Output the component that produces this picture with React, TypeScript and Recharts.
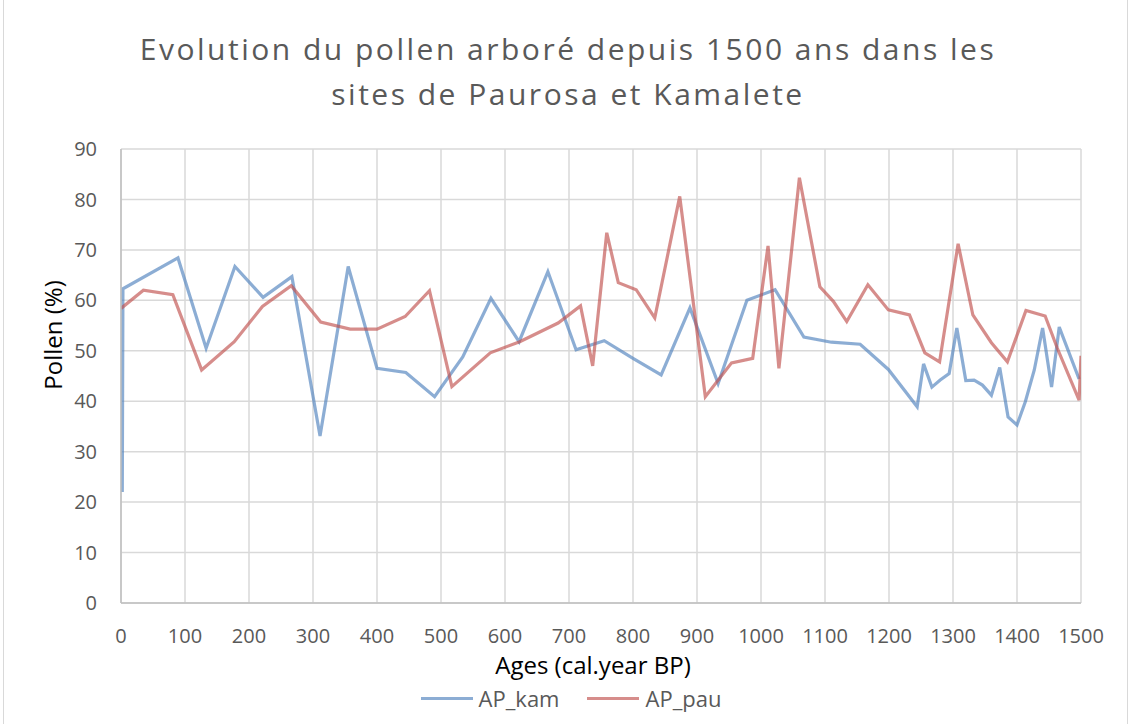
import { LineChart, Line, XAxis, YAxis, CartesianGrid } from 'recharts';

const FONT = '"Open Sans", sans-serif';

const xTicks = [0, 100, 200, 300, 400, 500, 600, 700, 800, 900, 1000, 1100, 1200, 1300, 1400, 1500];
const yTicks = [0, 10, 20, 30, 40, 50, 60, 70, 80, 90];

// AP_kam (Kamalete)
const kamAges = [
  2, 3, 89, 133, 178, 222, 267, 311, 355, 400, 445, 490, 534, 578, 622, 667, 711, 755, 800, 844,
  889, 933, 978, 1022, 1067, 1110, 1155, 1199, 1244, 1254, 1267, 1280, 1294, 1306, 1320, 1333,
  1346, 1360, 1373, 1386, 1400, 1413, 1427, 1440, 1454, 1466, 1497,
];
const kamValues = [
  22.0, 62.3, 68.4, 50.5, 66.7, 60.6, 64.7, 33.1, 66.7, 46.5, 45.7, 40.9, 48.8, 60.4, 51.8, 65.7,
  50.2, 52.0, 48.5, 45.2, 58.5, 43.5, 60.0, 62.1, 52.7, 51.7, 51.3, 46.3, 38.9, 47.4, 42.8, 44.2,
  45.5, 54.5, 44.1, 44.2, 43.2, 41.2, 46.7, 36.9, 35.3, 39.9, 46.2, 54.5, 42.8, 54.7, 44.4,
];

// AP_pau (Paurosa)
const pauAges = [
  0, 35, 81, 126, 177, 221, 266, 312, 358, 400, 444, 482, 517, 577, 623, 683, 718, 737, 759, 777,
  805, 834, 873, 913, 954, 987, 1011, 1028, 1060, 1092, 1113, 1134, 1167, 1199, 1232, 1256, 1279,
  1308, 1331, 1360, 1385, 1414, 1444, 1463, 1497, 1500,
];
const pauValues = [
  58.4, 62.0, 61.1, 46.2, 51.8, 58.8, 62.9, 55.7, 54.3, 54.3, 56.8, 61.9, 42.9, 49.6, 51.8, 55.5,
  58.9, 47.0, 73.4, 63.5, 62.1, 56.5, 80.6, 40.9, 47.6, 48.5, 70.8, 46.5, 84.3, 62.7, 59.8, 55.8,
  63.1, 58.1, 57.1, 49.6, 47.8, 71.2, 57.1, 51.6, 47.8, 58.0, 56.9, 50.5, 40.2, 49.0,
];

const seriesNames = ['AP_kam', 'AP_pau'];
const seriesColors = ['#4f81bd', '#c0504d'];

const kamData = kamAges.map((age, i) => ({ age, value: kamValues[i] }));
const pauData = pauAges.map((age, i) => ({ age, value: pauValues[i] }));

const abs = (style: any) => ({ position: 'absolute' as const, fontFamily: FONT, ...style });

export default function App() {
  return (
    <div style={{ position: 'absolute', left: 0, top: 0, width: 1130, height: 724, background: '#fff', overflow: 'hidden' }}>
      <div style={abs({ left: 3, top: 0, width: 1123, height: 724, borderLeft: '1px solid #d9d9d9', borderRight: '1px solid #d9d9d9' })} />
      <div
        style={abs({
          left: 0,
          top: 26,
          width: 1136,
          textAlign: 'center',
          fontSize: 30,
          lineHeight: '45px',
          color: '#595959',
          letterSpacing: 2.5,
        })}
      >
        Evolution du pollen arboré depuis 1500 ans dans les
        <br />
        sites de Paurosa et Kamalete
      </div>
      <div
        style={abs({
          left: 52,
          top: 335,
          transform: 'translate(-50%, -50%) rotate(-90deg)',
          fontSize: 24,
          color: '#000',
          whiteSpace: 'nowrap',
        })}
      >
        Pollen (%)
      </div>
      <div style={abs({ left: 0, width: 1186, top: 648, textAlign: 'center', fontSize: 24, color: '#000' })}>
        Ages (cal.year BP)
      </div>
      <div
        style={abs({
          left: 0,
          width: 1130,
          top: 683,
          display: 'flex',
          justifyContent: 'center',
          gap: 28,
          fontSize: 22,
          color: '#595959',
          paddingLeft: 12,
          boxSizing: 'border-box',
        })}
      >
        {seriesNames.map((n, i) => (
          <div key={n} style={{ display: 'flex', alignItems: 'center', gap: 6 }}>
            <span style={{ width: 52, height: 3, background: seriesColors[i], opacity: 0.65, display: 'inline-block' }} />
            <span>{n}</span>
          </div>
        ))}
      </div>
      <div style={{ position: 'absolute', left: 0, top: 0 }}>
        <LineChart width={1130} height={724} data={kamData} margin={{ top: 149, right: 49, left: 0, bottom: 0 }}>
          <CartesianGrid stroke="#d9d9d9" strokeWidth={1.5} />
          <XAxis
            dataKey="age"
            type="number"
            domain={[0, 1500]}
            ticks={xTicks}
            allowDataOverflow
            stroke="#bfbfbf"
            strokeWidth={1.5}
            tickLine={false}
            tickSize={0}
            tickMargin={26}
            height={121}
            tick={{ fill: '#595959', fontSize: 20, fontFamily: FONT }}
          />
          <YAxis
            type="number"
            domain={[0, 90]}
            ticks={yTicks}
            width={121}
            stroke="#bfbfbf"
            strokeWidth={1.5}
            tickLine={false}
            tickSize={0}
            tickMargin={24}
            tick={{ fill: '#595959', fontSize: 20, fontFamily: FONT }}
          />
          <Line
            data={kamData}
            dataKey="value"
            name={seriesNames[0]}
            stroke={seriesColors[0]}
            strokeOpacity={0.65}
            strokeWidth={3.2}
            dot={false}
            activeDot={false}
            isAnimationActive={false}
          />
          <Line
            data={pauData}
            dataKey="value"
            name={seriesNames[1]}
            stroke={seriesColors[1]}
            strokeOpacity={0.65}
            strokeWidth={3.2}
            dot={false}
            activeDot={false}
            isAnimationActive={false}
          />
        </LineChart>
      </div>
    </div>
  );
}
